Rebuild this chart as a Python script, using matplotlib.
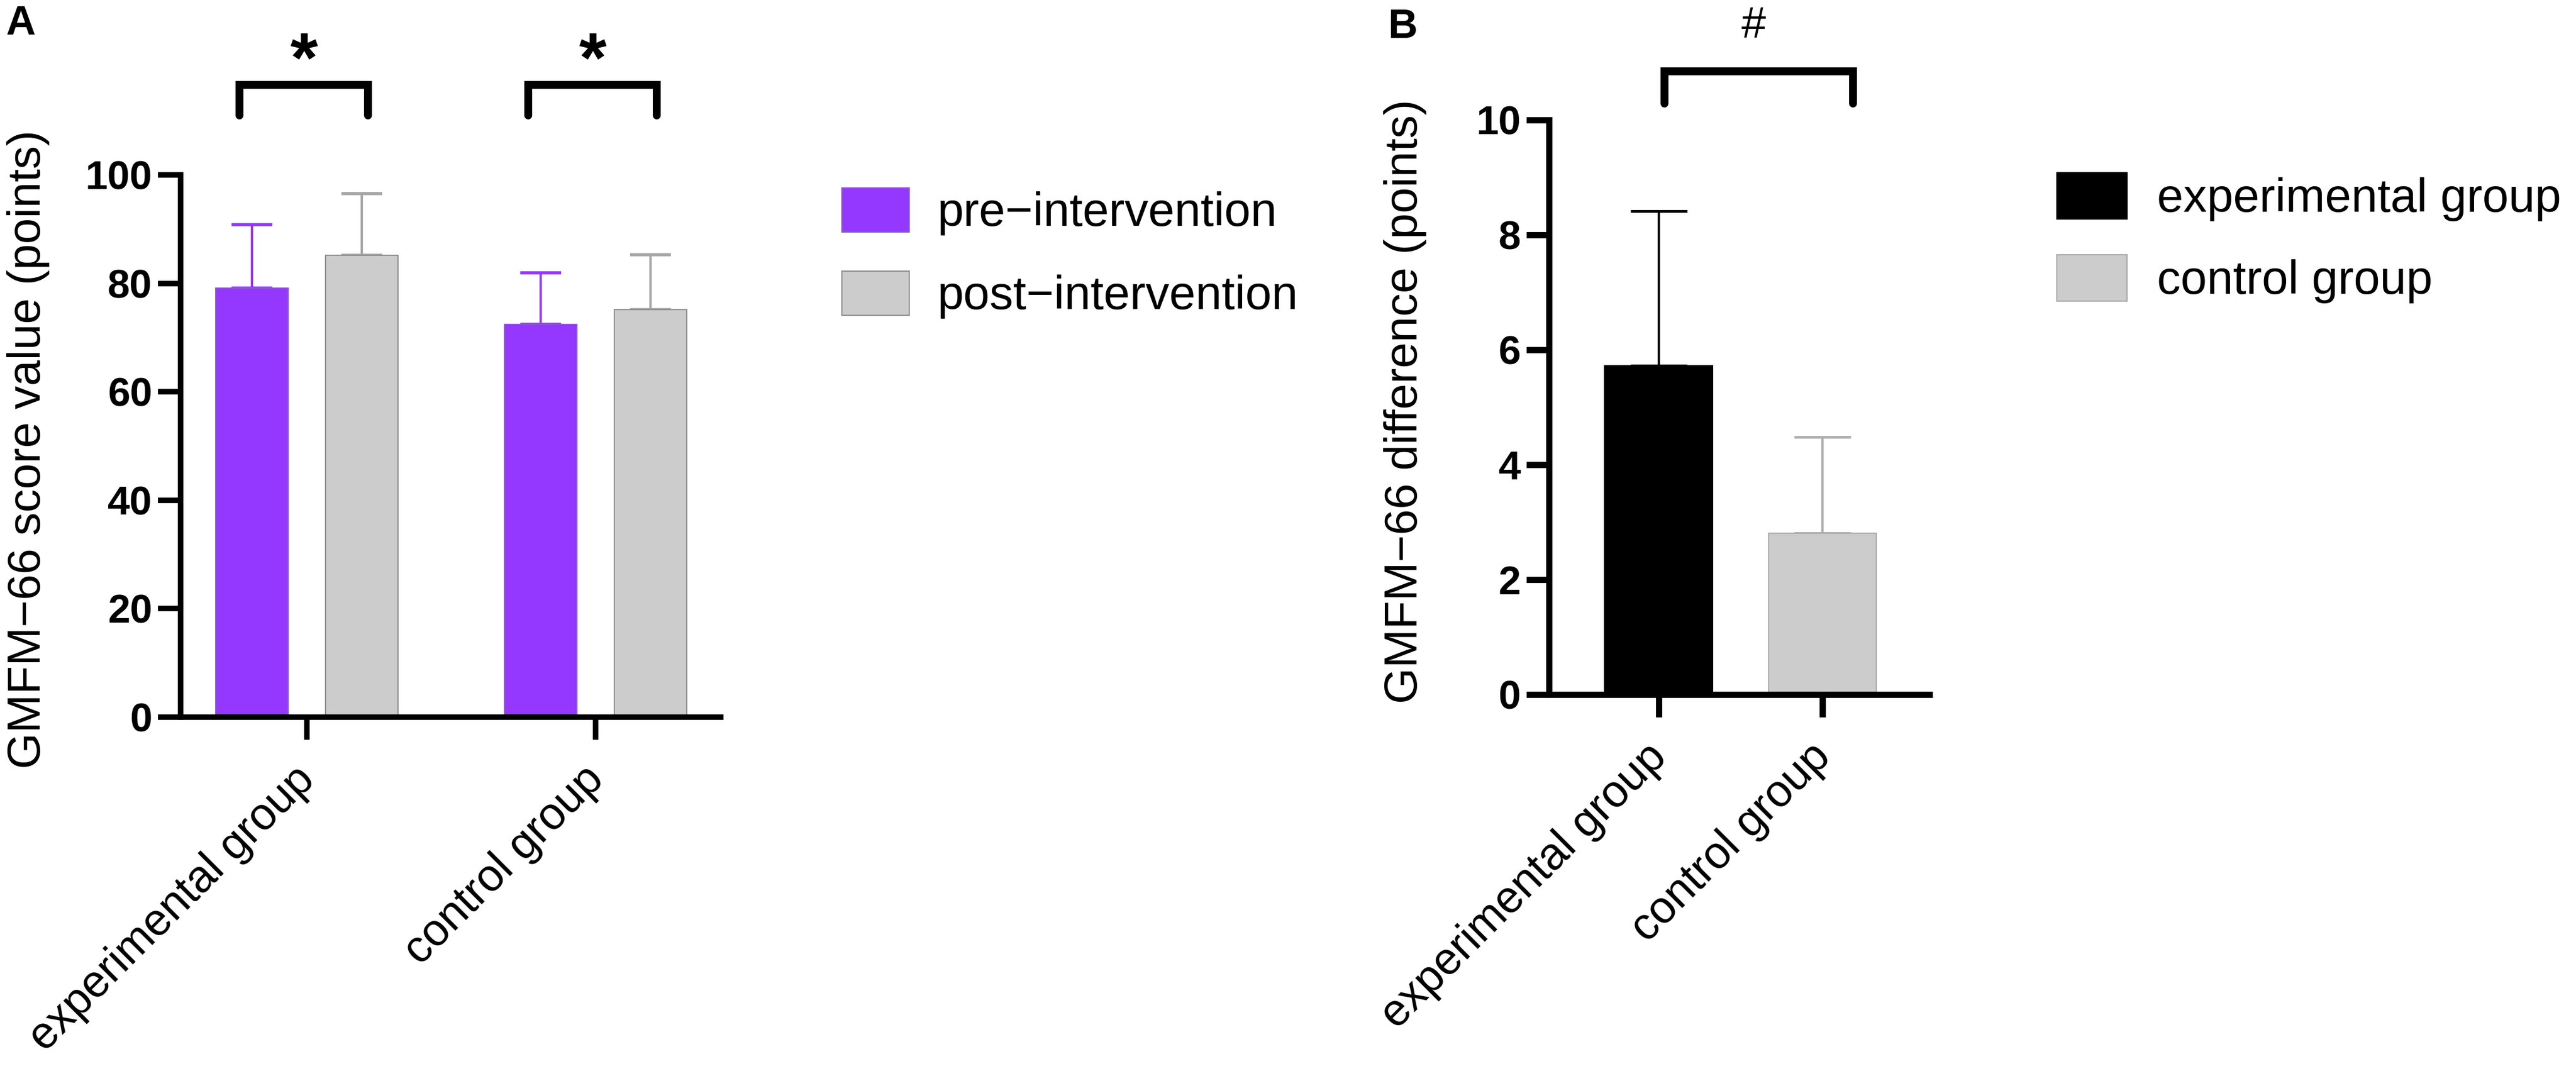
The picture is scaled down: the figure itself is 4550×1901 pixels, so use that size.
import matplotlib
matplotlib.use("Agg")
import matplotlib.pyplot as plt
import matplotlib.transforms as mtransforms
import numpy as np

plt.rcParams['font.family'] = ['Liberation Sans', 'DejaVu Sans']

# ---------------- data ----------------
groups_a = ["experimental group", "control group"]
series_a = ["pre\u2212intervention", "post\u2212intervention"]
pre_mean = [79.1, 72.4]
pre_sd = [11.7, 9.5]
post_mean = [85.2, 75.1]
post_sd = [11.3, 10.2]
yticks_a = [0, 20, 40, 60, 80, 100]

groups_b = ["experimental group", "control group"]
diff_mean = [5.72, 2.81]
diff_sd = [2.69, 1.67]
yticks_b = [0, 2, 4, 6, 8, 10]

PURPLE = "#9437FF"
GRAY = "#CCCCCC"

fig = plt.figure(figsize=(45.5, 19.01), dpi=100)

TICK_FS = 51
LAB_FS = 59
LEG_FS = 60
XT_FS = 57

label_offset = mtransforms.ScaledTranslation(-17.3 / 72, -16 / 72, fig.dpi_scale_trans)

def style_axes(ax, lw):
    for s in ["top", "right"]:
        ax.spines[s].set_visible(False)
    for s in ["left", "bottom"]:
        ax.spines[s].set_linewidth(lw)
        ax.spines[s].set_capstyle("projecting")
    ax.tick_params(axis="both", width=lw, length=29, pad=7)
    for lab in ax.get_yticklabels():
        lab.set_fontweight("bold")
        lab.set_fontsize(TICK_FS)
    for lab in ax.get_xticklabels():
        lab.set_transform(lab.get_transform() + label_offset)

# ---------------- panel A ----------------
axA = fig.add_axes([0.0701, 0.3335, 0.2097, 0.5040])
x = np.arange(len(groups_a))
off = 0.19
w = 0.25
axA.bar(x - off, pre_mean, w, color=PURPLE, edgecolor="#8a5cc9", linewidth=1.5,
        label=series_a[0], zorder=2)
axA.bar(x + off, post_mean, w, color=GRAY, edgecolor="#8c8c8c", linewidth=1.5,
        label=series_a[1], zorder=2)
axA.errorbar(x - off, pre_mean, yerr=[np.zeros(len(pre_sd)), pre_sd], fmt="none",
             ecolor=PURPLE, elinewidth=3, capsize=26, capthick=4, zorder=1)
axA.errorbar(x + off, post_mean, yerr=[np.zeros(len(post_sd)), post_sd], fmt="none",
             ecolor="#a6a6a6", elinewidth=3, capsize=26, capthick=4, zorder=1)
axA.set_xlim(-0.437, 1.433)
axA.set_ylim(0, 100)
axA.set_yticks(yticks_a)
axA.set_xticks(x)
axA.set_xticklabels(groups_a, rotation=45, ha="right", rotation_mode="anchor",
                    fontsize=XT_FS)
style_axes(axA, 7)
axA.set_ylabel("GMFM\u221266 score value (points)", fontsize=LAB_FS, va="center")
axA.yaxis.set_label_coords(-0.282, 0.494)

# significance brackets
for gi in x:
    xl, xr = gi - 0.233, gi + 0.212
    axA.plot([xl, xl, xr, xr], [110.9, 116.6, 116.6, 110.9], color="black",
             lw=10, solid_capstyle="round", solid_joinstyle="miter", clip_on=False)
    axA.text((xl + xr) / 2, 120.5, "*", ha="center", va="center", fontsize=90,
             fontweight="bold", clip_on=False)

legA = axA.legend(loc="upper left", bbox_to_anchor=(0.3268, 0.8254),
                  bbox_transform=fig.transFigure, frameon=False, fontsize=LEG_FS,
                  handlelength=1.43, handleheight=1.06, handletextpad=0.6,
                  labelspacing=0.75, borderpad=0, borderaxespad=0)

# ---------------- panel B ----------------
axB = fig.add_axes([0.6013, 0.3545, 0.1477, 0.5340])
xb = np.arange(len(groups_b))
bars_b = axB.bar(xb, diff_mean, 0.66, color=["black", GRAY],
                 edgecolor=["black", "#a8a8a8"], linewidth=1.5, zorder=2)
axB.errorbar(xb[:1], diff_mean[:1], yerr=[[0], diff_sd[:1]], fmt="none",
             ecolor="black", elinewidth=3, capsize=36, capthick=3.5, zorder=1)
axB.errorbar(xb[1:], diff_mean[1:], yerr=[[0], diff_sd[1:]], fmt="none",
             ecolor="#b0b0b0", elinewidth=3, capsize=36, capthick=3.5, zorder=1)
axB.set_xlim(-0.671, 1.654)
axB.set_ylim(0, 10)
axB.set_yticks(yticks_b)
axB.set_xticks(xb)
axB.set_xticklabels(groups_b, rotation=45, ha="right", rotation_mode="anchor",
                    fontsize=XT_FS)
style_axes(axB, 8)
axB.set_ylabel("GMFM\u221266 difference (points)", fontsize=LAB_FS, va="center")
axB.yaxis.set_label_coords(-0.378, 0.510)

bxl, bxr = 0.035, 1.187
axB.plot([bxl, bxl, bxr, bxr], [10.29, 10.85, 10.85, 10.29], color="black",
         lw=10, solid_capstyle="round", solid_joinstyle="miter", clip_on=False)
axB.text(0.58, 11.63, "#", ha="center", va="center", fontsize=56, clip_on=False)

legB = axB.legend(bars_b, groups_b, loc="upper left", bbox_to_anchor=(0.7985, 0.8396),
                  bbox_transform=fig.transFigure, frameon=False, fontsize=LEG_FS,
                  handlelength=1.48, handleheight=1.14, handletextpad=0.64,
                  labelspacing=0.7, borderpad=0, borderaxespad=0)

# panel letters
fig.text(10 / 4550, 1 - 8 / 1901, "A", fontsize=52, fontweight="bold", ha="left", va="top")
fig.text(2451 / 4550, 1 - 14 / 1901, "B", fontsize=52, fontweight="bold", ha="left", va="top")

fig.savefig("out.png", dpi=100, facecolor="white")
